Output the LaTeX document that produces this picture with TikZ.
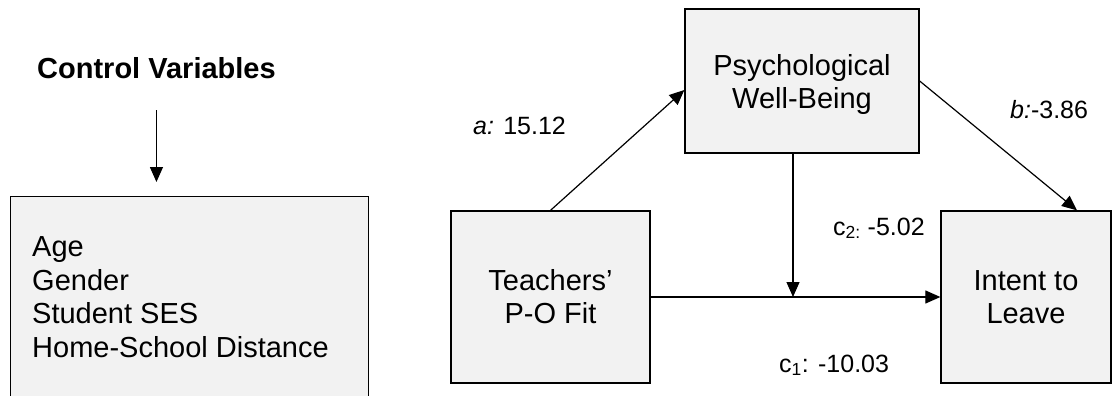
\documentclass[tikz,border=0pt]{standalone}
\usepackage{fontspec}
\setmainfont{Liberation Sans}
\usetikzlibrary{arrows.meta}
\definecolor{boxfill}{HTML}{F2F2F2}
\tikzset{
  box/.style={draw=black, line width=1.3pt, fill=boxfill, rectangle, inner sep=0pt,
    align=center, font=\fontsize{29}{33}\selectfont},
  conn/.style={line width=1.2pt, -{Triangle[length=15pt,width=13pt]}},
  coef/.style={inner sep=0pt, anchor=base west, font=\fontsize{25}{30}\selectfont},
  plain/.style={inner sep=0pt, font=\fontsize{29}{33.7}\selectfont},
}
\begin{document}
\begin{tikzpicture}[x=1pt,y=-1pt]
\useasboundingbox (0,0) rectangle (1112,396);
\clip (0,0) rectangle (1112,396);
% control variables
\node[box, minimum width=358pt, minimum height=240pt, anchor=north west] (ctrl) at (10,196) {};
\node[plain, font=\bfseries\fontsize{29}{33}\selectfont, anchor=base west] (ctrltitle) at (37,78) {Control Variables};
\node[plain, anchor=north west, align=left] (ctrllist) at (32,236.2) {Age\\Gender\\Student SES\\Home-School Distance};
\draw[conn, shorten <=32pt, shorten >=14pt] (ctrltitle.south) -- (ctrltitle.south |- ctrl.north);
% model boxes
\node[box, minimum width=234pt, minimum height=144pt, text depth=0pt] (psych) at (802,81) {Psychological\\Well-Being};
\node[box, minimum width=199pt, minimum height=172pt] (teach) at (550.5,297) {Teachers’\\P-O Fit};
\node[box, minimum width=170pt, minimum height=172pt] (intent) at (1026,297) {Intent to\\Leave};
\coordinate (join) at (793,297);
% paths
\draw[conn] (teach.north) -- ([yshift=-9pt]psych.west);
\draw[conn] (psych.east) -- ([xshift=51pt]intent.north);
\draw[conn] (teach.east) -- (intent.west);
\draw[conn] (psych.south -| join) -- (join);
% coefficients
\node[coef] (la) at (473,134) {\textit{a:} 15.12};
\node[coef] (lb) at (1010,118) {\textit{b:}-3.86};
\node[coef] (lc2) at (833,235) {c\textsubscript{2:} -5.02};
\node[coef] (lc1) at (779,372) {c\textsubscript{1}: -10.03};
\end{tikzpicture}
\end{document}
